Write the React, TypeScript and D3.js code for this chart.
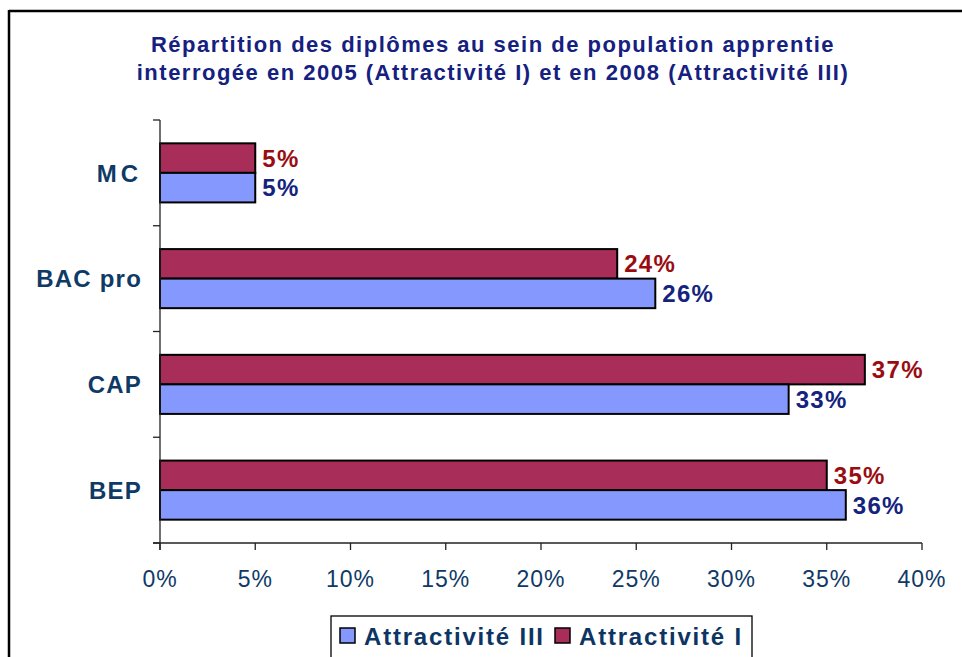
import React, { useEffect, useRef } from 'react';
import * as d3 from 'd3';

const categories = ['MC', 'BAC pro', 'CAP', 'BEP'];
const attractiviteI = [5, 24, 37, 35];
const attractiviteIII = [5, 26, 33, 36];
const tickValues = [0, 5, 10, 15, 20, 25, 30, 35, 40];
const seriesNames = ['Attractivité I', 'Attractivité III'];
const legendOrder = ['Attractivité III', 'Attractivité I'];

const App = () => {
  const ref = useRef<SVGSVGElement>(null);

  useEffect(() => {
    const width = 962;
    const height = 657;
    const svg = d3.select(ref.current);
    svg.selectAll('*').remove();
    svg.attr('width', width).attr('height', height);

    const font = "'Liberation Sans', Arial, sans-serif";
    const fill = { 'Attractivité I': '#a82d58', 'Attractivité III': '#8598fe' };
    const labelColor = { 'Attractivité I': '#990d12', 'Attractivité III': '#13237e' };

    svg.append('rect').attr('width', width).attr('height', height).attr('fill', '#fff');

    // frame (only top and left edges are visible)
    svg.append('line').attr('x1', 9).attr('x2', width).attr('y1', 11).attr('y2', 11)
      .attr('stroke', '#000').attr('stroke-width', 2.5);
    svg.append('line').attr('x1', 9).attr('x2', 9).attr('y1', 10).attr('y2', height)
      .attr('stroke', '#000').attr('stroke-width', 2.5);

    // title
    const title = svg.append('text')
      .attr('text-anchor', 'middle')
      .attr('font-family', font)
      .attr('font-weight', 700)
      .attr('font-size', 22)
      .attr('letter-spacing', 1.5)
      .attr('fill', '#15207f');
    title.append('tspan').attr('x', 493).attr('y', 52)
      .text('Répartition des diplômes au sein de population apprentie');
    title.append('tspan').attr('x', 493).attr('y', 80)
      .text('interrogée en 2005 (Attractivité I) et en 2008 (Attractivité III)');

    const x = d3.scaleLinear().domain([0, 40]).range([160, 922]);
    const y = d3.scaleBand().domain(categories).range([120, 543]).paddingInner(0).paddingOuter(0);
    const inner = d3.scaleBand().domain(seriesNames).range([0, y.bandwidth()]).paddingOuter(0.79).paddingInner(0);

    const g = svg.append('g');

    // bars
    categories.forEach((cat, i) => {
      const values = { 'Attractivité I': attractiviteI[i], 'Attractivité III': attractiviteIII[i] };
      seriesNames.forEach((s) => {
        const v = values[s];
        const y0 = (y(cat) as number) + (inner(s) as number);
        g.append('rect')
          .attr('x', x(0))
          .attr('y', y0)
          .attr('width', x(v) - x(0))
          .attr('height', inner.bandwidth())
          .attr('fill', fill[s])
          .attr('stroke', '#000')
          .attr('stroke-width', 2);
        g.append('text')
          .attr('x', x(v) + 7)
          .attr('y', y0 + inner.bandwidth() / 2)
          .attr('dy', '0.36em')
          .attr('font-family', font)
          .attr('font-weight', 700)
          .attr('font-size', 24)
          .attr('letter-spacing', 1.3)
          .attr('fill', labelColor[s])
          .text(v + '%');
      });
    });

    // y axis
    const axisColor = '#222';
    g.append('line').attr('x1', x(0)).attr('x2', x(0)).attr('y1', 120).attr('y2', 550)
      .attr('stroke', axisColor).attr('stroke-width', 1.3);
    const yTicks = categories.map((c) => y(c) as number).concat([543]);
    yTicks.forEach((t) => {
      g.append('line').attr('x1', x(0) - 7).attr('x2', x(0)).attr('y1', t).attr('y2', t)
        .attr('stroke', axisColor).attr('stroke-width', 1.3);
    });
    categories.forEach((cat) => {
      g.append('text')
        .attr('x', 142)
        .attr('y', (y(cat) as number) + y.bandwidth() / 2)
        .attr('dy', '0.36em')
        .attr('text-anchor', 'end')
        .attr('font-family', font)
        .attr('font-weight', 700)
        .attr('font-size', 24)
        .attr('letter-spacing', cat === 'MC' ? 4 : 1.2)
        .attr('fill', '#0f3a66')
        .text(cat);
    });

    // x axis
    g.append('line').attr('x1', x(0) - 7).attr('x2', x(40)).attr('y1', 543).attr('y2', 543)
      .attr('stroke', axisColor).attr('stroke-width', 1.3);
    tickValues.forEach((t) => {
      g.append('line').attr('x1', x(t)).attr('x2', x(t)).attr('y1', 543).attr('y2', 550)
        .attr('stroke', axisColor).attr('stroke-width', 1.3);
      g.append('text')
        .attr('x', x(t))
        .attr('y', 587)
        .attr('text-anchor', 'middle')
        .attr('font-family', font)
        .attr('font-size', 23)
        .attr('letter-spacing', 1)
        .attr('fill', '#0f3a66')
        .text(t + '%');
    });

    // legend
    const lg = svg.append('g');
    lg.append('rect').attr('x', 331).attr('y', 616).attr('width', 421).attr('height', 60)
      .attr('fill', '#fff').attr('stroke', '#000').attr('stroke-width', 1.3);
    const legendX = [340, 555];
    legendOrder.forEach((s, i) => {
      lg.append('rect').attr('x', legendX[i]).attr('y', 628).attr('width', 15).attr('height', 15)
        .attr('fill', fill[s]).attr('stroke', '#000').attr('stroke-width', 1.5);
      lg.append('text')
        .attr('x', legendX[i] + 24)
        .attr('y', 636)
        .attr('dy', '0.36em')
        .attr('font-family', font)
        .attr('font-weight', 700)
        .attr('font-size', 24)
        .attr('letter-spacing', 1.8)
        .attr('fill', '#0d3563')
        .text(s);
    });
  }, []);

  return <svg ref={ref} style={{ position: 'absolute', left: 0, top: 0, display: 'block' }} />;
};

export default App;
